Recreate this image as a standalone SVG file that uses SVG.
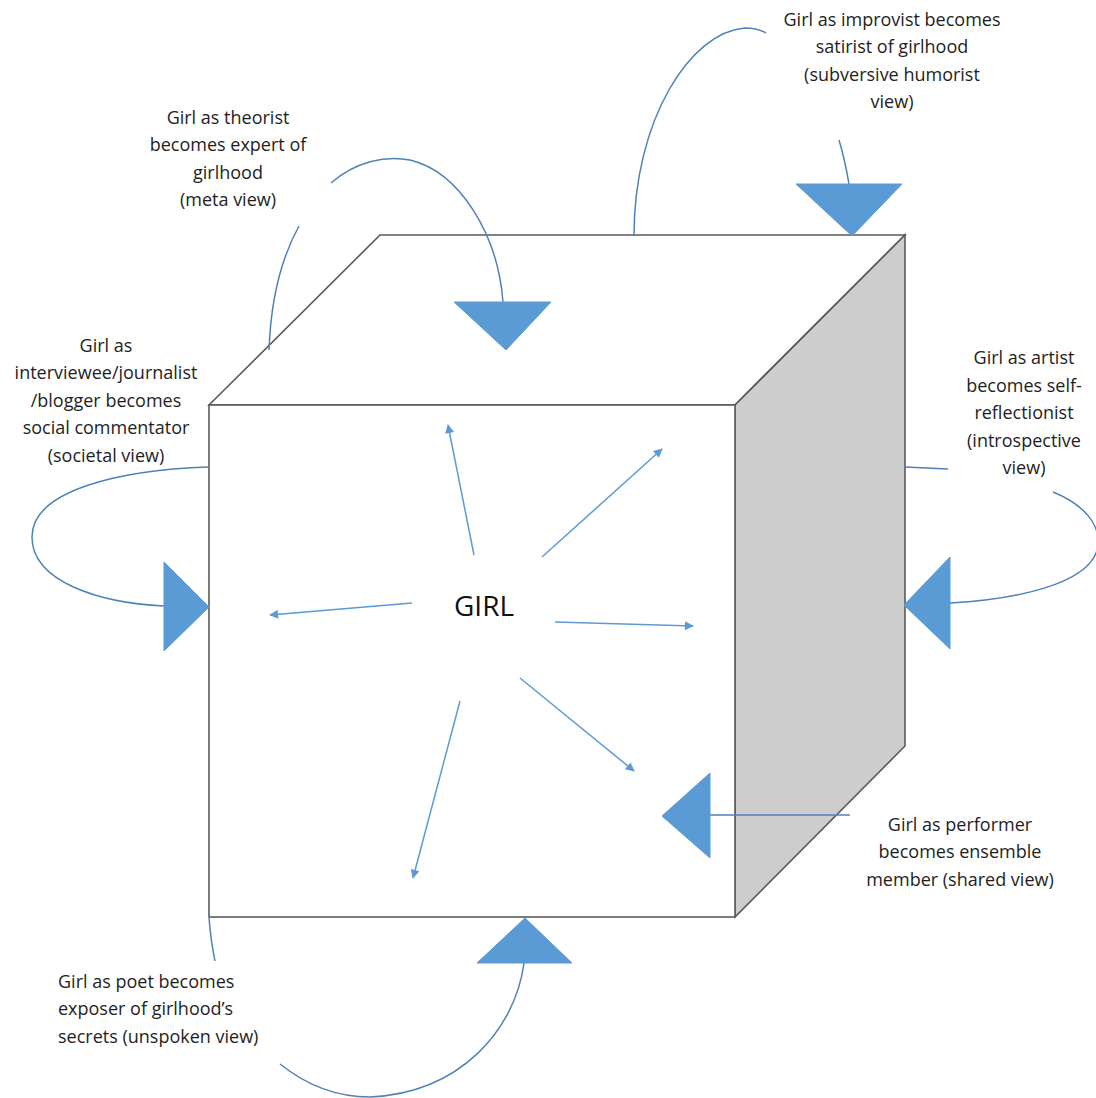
<svg xmlns="http://www.w3.org/2000/svg" width="1096" height="1098" viewBox="0 0 1096 1098">
<style>
.edge{stroke:#5a5a5a;stroke-width:1.6;stroke-linejoin:miter}
.white{fill:#fff}
.shade{fill:#cdcdcd}
.curve{fill:none;stroke:#4f81b8;stroke-width:1.5}
.tri{fill:#5b9bd5;stroke:#5b9bd5;stroke-width:1}
.ray{fill:none;stroke:#5b9bd5;stroke-width:1.5}
.lbl{font-family:"Open Sans","DejaVu Sans",sans-serif;font-size:18px;fill:#1e1e1e;text-anchor:middle}
.lbll{font-family:"Open Sans","DejaVu Sans",sans-serif;font-size:18px;fill:#1e1e1e}
.girl{font-family:"Open Sans","DejaVu Sans",sans-serif;font-size:28px;fill:#111;text-anchor:middle}
</style>
<defs>
<marker id="ah" viewBox="0 0 10 10" refX="9" refY="5" markerWidth="11" markerHeight="9" markerUnits="userSpaceOnUse" orient="auto">
<path d="M0,0 L10,5 L0,10 z" fill="#5b9bd5"/>
</marker>
</defs>
<rect width="1096" height="1098" fill="#fff"/>

<g id="cube">
<polygon class="edge white" points="209,405 380,235 905,235 735,405"/>
<polygon class="edge shade" points="735,405 905,235 905,746 735,917"/>
<rect class="edge white" x="209" y="405" width="526" height="512"/>
</g>

<g id="girl"><text class="girl" x="484" y="616">GIRL</text></g>

<g id="connectors">
<path class="ray" d="M474,555 L448,425" marker-end="url(#ah)"/>
<path class="ray" d="M542,557 L662,449" marker-end="url(#ah)"/>
<path class="ray" d="M412,603 L270,615" marker-end="url(#ah)"/>
<path class="ray" d="M555,622 L693,626" marker-end="url(#ah)"/>
<path class="ray" d="M520,678 L634,771" marker-end="url(#ah)"/>
<path class="ray" d="M460,701 L413,878" marker-end="url(#ah)"/>

<path class="curve" d="M269,350 C271,295 283,255 299,226"/>
<path class="curve" d="M331,183 C355,162 385,155 410,160 C460,172 498,235 503,302"/>
<path class="curve" d="M634,236 C634,120 690,32 745,28 C755,28 761,30 766,33"/>
<path class="curve" d="M839,140 Q845,160 849,184"/>
<path class="curve" d="M209,467 C120,470 32,490 32,537 C32,582 100,603 164,606"/>
<path class="curve" d="M905,467 L948,469"/>
<path class="curve" d="M1053,492 C1085,505 1100,525 1098,545 C1094,585 1010,600 950,603"/>
<path class="curve" d="M710,815 L850,815"/>
<path class="curve" d="M209,918 Q211,942 215,961"/>
<path class="curve" d="M280,1064 C310,1088 340,1097 370,1097 C460,1093 515,1030 524,963"/>
</g>

<g id="node-theorist">
<polygon class="tri" points="454,302 551,302 506,350"/>
<text class="lbl" x="228" y="124">Girl as theorist</text>
<text class="lbl" x="228" y="151">becomes expert of</text>
<text class="lbl" x="228" y="179">girlhood</text>
<text class="lbl" x="228" y="206">(meta view)</text>
</g>

<g id="node-improvist">
<polygon class="tri" points="796,184 902,184 852,236"/>
<text class="lbl" x="892" y="26">Girl as improvist becomes</text>
<text class="lbl" x="892" y="53">satirist of girlhood</text>
<text class="lbl" x="892" y="81">(subversive humorist</text>
<text class="lbl" x="892" y="108">view)</text>
</g>

<g id="node-societal">
<polygon class="tri" points="164,562 164,651 209,607"/>
<text class="lbl" x="106" y="352">Girl as</text>
<text class="lbl" x="106" y="379">interviewee/journalist</text>
<text class="lbl" x="106" y="407">/blogger becomes</text>
<text class="lbl" x="106" y="434">social commentator</text>
<text class="lbl" x="106" y="462">(societal view)</text>
</g>

<g id="node-artist">
<polygon class="tri" points="950,557 950,649 904,605"/>
<text class="lbl" x="1024" y="364">Girl as artist</text>
<text class="lbl" x="1024" y="392">becomes self-</text>
<text class="lbl" x="1024" y="419">reflectionist</text>
<text class="lbl" x="1024" y="447">(introspective</text>
<text class="lbl" x="1024" y="474">view)</text>
</g>

<g id="node-performer">
<polygon class="tri" points="710,773 710,858 662,816"/>
<text class="lbl" x="960" y="831">Girl as performer</text>
<text class="lbl" x="960" y="858">becomes ensemble</text>
<text class="lbl" x="960" y="886">member (shared view)</text>
</g>

<g id="node-poet">
<polygon class="tri" points="477,963 572,963 525,918"/>
<text class="lbll" x="58" y="988">Girl as poet becomes</text>
<text class="lbll" x="58" y="1015">exposer of girlhood’s</text>
<text class="lbll" x="58" y="1043">secrets (unspoken view)</text>
</g>
</svg>
